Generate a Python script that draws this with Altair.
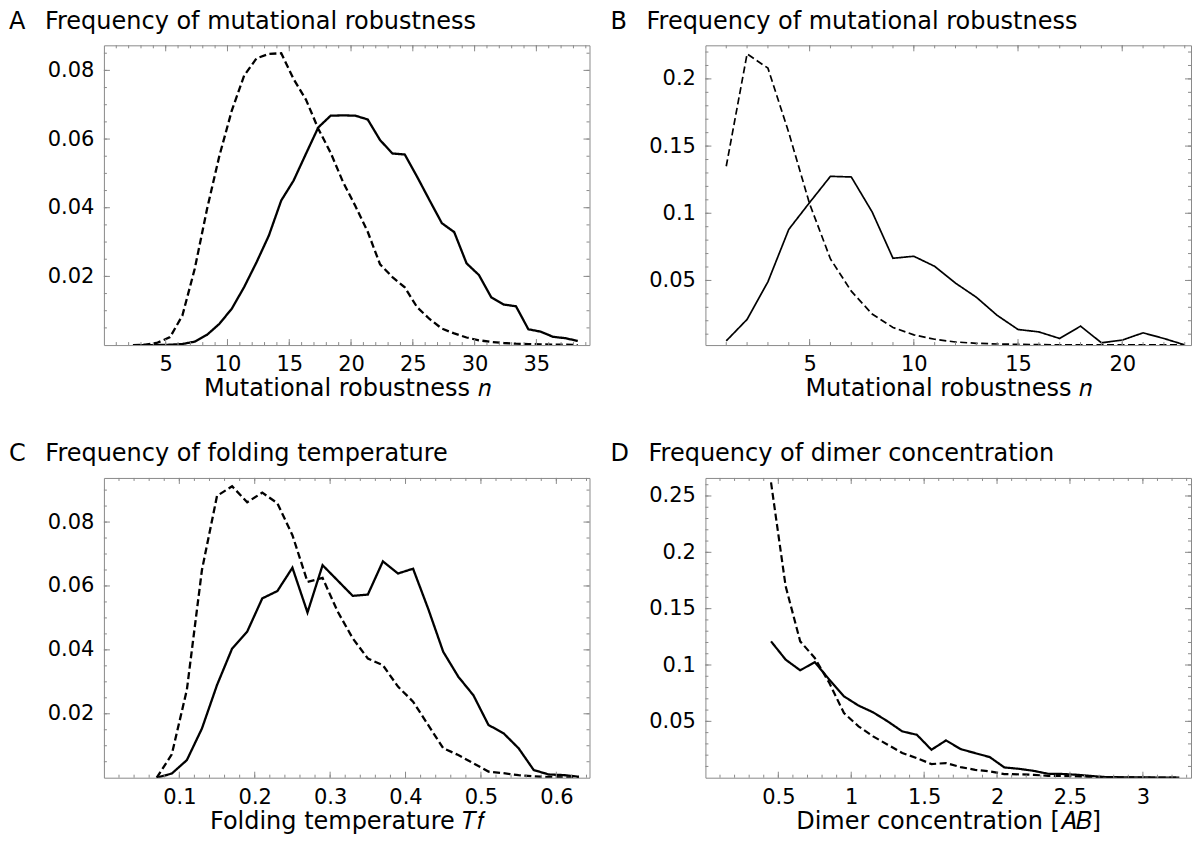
import altair as alt
import pandas as pd

FONT = "DejaVu Sans"
W, H = 486, 300

# ---------------- Panel A ----------------
A_x = [2.35, 3.35, 4.35, 5.35, 6.35, 7.35, 8.35, 9.35, 10.35, 11.35, 12.35, 13.35,
       14.35, 15.35, 16.35, 17.35, 18.35, 19.35, 20.35, 21.35, 22.35, 23.35, 24.35,
       25.35, 26.35, 27.35, 28.35, 29.35, 30.35, 31.35, 32.35, 33.35, 34.35, 35.35,
       36.35, 37.35, 38.35]
A_solid = [0.0000, 0.0000, 0.0000, 0.0001, 0.0003, 0.0010, 0.0030, 0.0062, 0.0106, 0.0169,
           0.0241, 0.0319, 0.0421, 0.0479, 0.0557, 0.0634, 0.0668, 0.0669, 0.0668, 0.0657,
           0.0597, 0.0558, 0.0555, 0.0490, 0.0422, 0.0355, 0.0329, 0.0238, 0.0204, 0.0139,
           0.0118, 0.0113, 0.0046, 0.0039, 0.0024, 0.0020, 0.0012]
A_dashed = [0.0000, 0.0001, 0.0007, 0.0023, 0.0086, 0.0222, 0.0397, 0.0552, 0.0683, 0.0785,
            0.0835, 0.0848, 0.0850, 0.0775, 0.0715, 0.0630, 0.0560, 0.0475, 0.0405, 0.0330,
            0.0235, 0.0198, 0.0168, 0.0110, 0.0076, 0.0048, 0.0034, 0.0022, 0.0014, 0.0009,
            0.0006, 0.0004, 0.0003, 0.0002, 0.0001, 0.0001, 0.0000]
A_xticks = [5, 10, 15, 20, 25, 30, 35]
A_yticks = [0.02, 0.04, 0.06, 0.08]

# ---------------- Panel B ----------------
B_x = [1, 2, 3, 4, 5, 6, 7, 8, 9, 10, 11, 12, 13, 14, 15, 16, 17, 18, 19, 20, 21, 22, 23]
B_solid = [0.005, 0.021, 0.049, 0.088, 0.108, 0.1275, 0.127, 0.101, 0.0665, 0.068, 0.0605,
           0.048, 0.0375, 0.024, 0.0135, 0.0117, 0.0068, 0.016, 0.0036, 0.0056, 0.011,
           0.0068, 0.002]
B_dashed = [0.135, 0.2186, 0.208, 0.160, 0.107, 0.066, 0.042, 0.025, 0.015, 0.0095, 0.0062,
            0.0042, 0.0032, 0.0027, 0.0024, 0.0022, 0.0021, 0.0020, 0.0020, 0.0020, 0.0020,
            0.0020, 0.0020]
B_xticks = [5, 10, 15, 20]
B_yticks = [0.05, 0.1, 0.15, 0.2]

# ---------------- Panel C ----------------
C_x = [0.07, 0.09, 0.11, 0.13, 0.15, 0.17, 0.19, 0.21, 0.23, 0.25, 0.27, 0.29, 0.31, 0.33,
       0.35, 0.37, 0.39, 0.41, 0.43, 0.45, 0.47, 0.49, 0.51, 0.53, 0.55, 0.57, 0.59, 0.61, 0.63]
C_solid = [0.0000, 0.0013, 0.0055, 0.0154, 0.0290, 0.0404, 0.0457, 0.0561, 0.0584, 0.0657,
           0.0517, 0.0665, 0.0617, 0.0569, 0.0573, 0.0677, 0.0639, 0.0654, 0.0529, 0.0394,
           0.0316, 0.0258, 0.0165, 0.0139, 0.0092, 0.0024, 0.0010, 0.0008, 0.0003]
C_dashed = [0.0000, 0.0073, 0.0275, 0.0650, 0.0882, 0.0912, 0.0862, 0.0892, 0.0859, 0.0759,
            0.0613, 0.0625, 0.0520, 0.0436, 0.0373, 0.0352, 0.0285, 0.0238, 0.0165, 0.0092,
            0.0071, 0.0045, 0.0019, 0.0014, 0.0008, 0.0004, 0.0002, 0.0001, 0.0000]
C_xticks = [0.1, 0.2, 0.3, 0.4, 0.5, 0.6]
C_yticks = [0.02, 0.04, 0.06, 0.08]

# ---------------- Panel D ----------------
D_x = [0.45, 0.55, 0.65, 0.75, 0.85, 0.95, 1.05, 1.15, 1.25, 1.35, 1.45, 1.55, 1.65, 1.75,
       1.85, 1.95, 2.05, 2.15, 2.25, 2.35, 2.45, 2.55, 2.65, 2.75, 2.85, 2.95, 3.05, 3.15, 3.25]
D_solid = [0.121, 0.1048, 0.0953, 0.1025, 0.087, 0.0722, 0.064, 0.058, 0.050, 0.0411, 0.0381,
           0.0248, 0.0331, 0.0254, 0.0218, 0.0183, 0.0091, 0.0079, 0.0061, 0.0035, 0.0033,
           0.0026, 0.0015, 0.0005, 0.0004, 0.0003, 0.0002, 0.0001, 0.0001]
D_dashed = [0.262, 0.170, 0.121, 0.1063, 0.084, 0.0574, 0.0456, 0.0367, 0.0293, 0.0219, 0.0174,
            0.0121, 0.0130, 0.0094, 0.0070, 0.0056, 0.0032, 0.0030, 0.0025, 0.0017, 0.0015,
            0.0012, 0.0006, 0.0004, 0.0002, 0.0002, 0.0001, 0.0001, 0.0000]
D_xticks = [0.5, 1, 1.5, 2, 2.5, 3]
D_yticks = [0.05, 0.1, 0.15, 0.2, 0.25]


def frange(start, stop, step):
    out = []
    k = 0
    while True:
        v = round(start + k * step, 6)
        if v > stop + 1e-9:
            break
        out.append(v)
        k += 1
    return out


def panel(title, xs, solid, dashed, xdom, ydom, xticks, yticks, xminor, yminor, xtitle, lw, dash):
    df = pd.DataFrame({
        "x": list(xs) + list(xs),
        "y": list(solid) + list(dashed),
        "s": ["solid"] * len(xs) + ["dashed"] * len(xs),
    })
    xsc = alt.Scale(domain=xdom, nice=False, zero=False)
    ysc = alt.Scale(domain=ydom, nice=False, zero=False)
    xax = alt.Axis(values=xticks, format="~g", title=xtitle, labelPadding=8.5, titlePadding=2)
    yax = alt.Axis(values=yticks, format="~g", title=None, labelPadding=10,
                   minExtent=95, maxExtent=95)
    lines = alt.Chart(df).mark_line(color="black", strokeWidth=lw, clip=True).encode(
        x=alt.X("x:Q", scale=xsc, axis=xax, title=xtitle),
        y=alt.Y("y:Q", scale=ysc, axis=yax, title=None),
        strokeDash=alt.StrokeDash("s:N", scale=alt.Scale(domain=["solid", "dashed"],
                                                         range=[[1, 0], dash]), legend=None),
        detail="s:N",
    )
    layers = [lines]
    xmaj = pd.DataFrame({"x": xticks})
    xmin = pd.DataFrame({"x": [v for v in xminor if xdom[0] < v < xdom[1]]})
    ymaj = pd.DataFrame({"y": yticks})
    ymin = pd.DataFrame({"y": [v for v in yminor if ydom[0] < v < ydom[1]]})
    tick_style = dict(color="#8a8a8a", strokeWidth=1)
    for d, ln in ((xmaj, 6), (xmin, 3)):
        c = alt.Chart(d).mark_rule(**tick_style)
        layers.append(c.encode(x=alt.X("x:Q", scale=xsc, axis=xax, title=xtitle),
                               y=alt.value(H), y2=alt.value(H - ln)))
        layers.append(c.encode(x=alt.X("x:Q", scale=xsc, axis=xax, title=xtitle),
                               y=alt.value(0), y2=alt.value(ln)))
    for d, ln in ((ymaj, 6), (ymin, 3)):
        c = alt.Chart(d).mark_rule(**tick_style)
        layers.append(c.encode(y=alt.Y("y:Q", scale=ysc, axis=yax, title=None),
                               x=alt.value(0), x2=alt.value(ln)))
        layers.append(c.encode(y=alt.Y("y:Q", scale=ysc, axis=yax, title=None),
                               x=alt.value(W), x2=alt.value(W - ln)))
    return alt.layer(*layers).properties(
        width=W, height=H,
        title=alt.TitleParams(text=title, anchor="start", frame="bounds", fontSize=24,
                              fontWeight="normal", font=FONT, color="black", offset=11),
    )


GAP = "\u2002\u00a0"
pA = panel("A" + GAP + "Frequency of mutational robustness", A_x, A_solid, A_dashed,
           [0, 39.3], [0, 0.0873], A_xticks, A_yticks,
           frange(1, 39, 1), frange(0.005, 0.085, 0.005),
           "Mutational robustness \U0001D45B", 2.3, [7, 3.5])
pB = panel("B" + GAP + "Frequency of mutational robustness", B_x, B_solid, B_dashed,
           [0, 23.3], [0.0019, 0.225], B_xticks, B_yticks,
           frange(1, 23, 1), frange(0.01, 0.22, 0.01),
           "Mutational robustness \U0001D45B", 1.7, [7, 4])
pC = panel("C" + GAP + "Frequency of folding temperature", C_x, C_solid, C_dashed,
           [0, 0.644], [0, 0.0938], C_xticks, C_yticks,
           frange(0.02, 0.64, 0.02), frange(0.005, 0.09, 0.005),
           "Folding temperature \U0001D447\U0001D453", 2.3, [7, 3.5])
pD = panel("D" + GAP + "Frequency of dimer concentration", D_x, D_solid, D_dashed,
           [0, 3.33], [0, 0.266], D_xticks, D_yticks,
           frange(0.1, 3.3, 0.1), frange(0.01, 0.26, 0.01),
           "Dimer concentration [\U0001D434\U0001D435]", 2.2, [7, 3.5])

chart = alt.vconcat(
    alt.hconcat(pA, pB, spacing=19),
    alt.hconcat(pC, pD, spacing=19),
    spacing=41,
).properties(
    padding={"left": 0, "top": 1, "right": 0, "bottom": 0},
).configure_view(
    stroke="#8a8a8a", strokeWidth=1
).configure_axis(
    domain=False, ticks=False, grid=False,
    labelFont=FONT, labelFontSize=21, labelColor="black",
    titleFont=FONT, titleFontSize=24, titleFontWeight="normal", titleColor="black",
)

chart.save("out.html", embed_options={"renderer": "svg", "actions": False})
